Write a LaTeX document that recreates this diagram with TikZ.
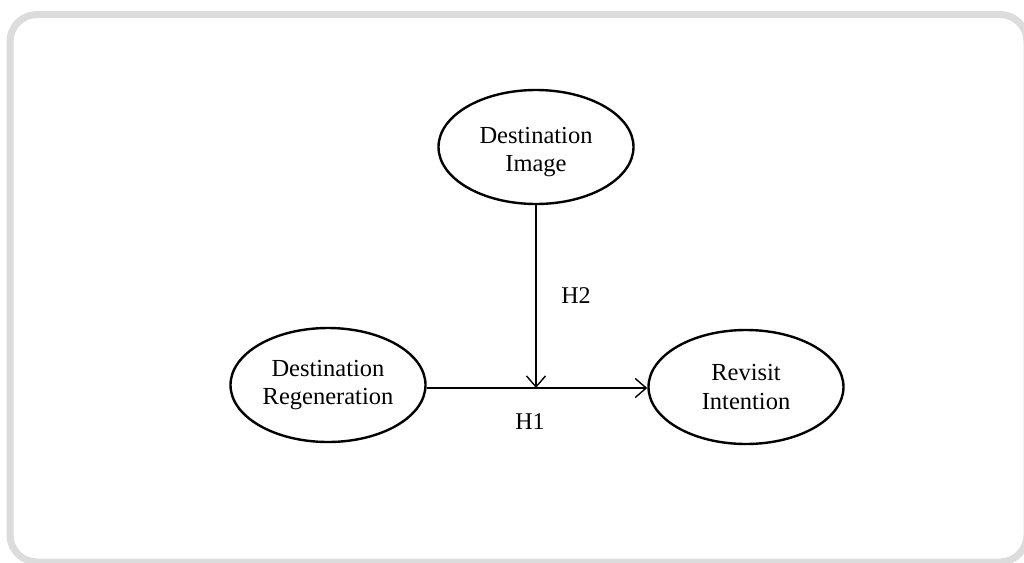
\documentclass[tikz,border=0pt]{standalone}
\usepackage{fontspec}
\setmainfont{Liberation Serif}
\usetikzlibrary{shapes.geometric,arrows.meta}
\definecolor{framegray}{RGB}{220,220,220}
\tikzset{
  construct/.style={ellipse, draw, line width=2.4pt, minimum width=195pt, minimum height=114pt, inner sep=0pt, align=center, font=\fontsize{24.5}{28.5}\selectfont},
  link/.style={line width=1.4pt, -{Straight Barb[length=11pt,width=19pt,line width=1.4pt]}},
  hyp/.style={font=\fontsize{24}{28}\selectfont, inner sep=0pt}
}
\begin{document}
\begin{tikzpicture}[x=1pt,y=-1pt]
\useasboundingbox (0,0) rectangle (1024,562);
\fill[white] (0,0) rectangle (1024,562);
\draw[framegray, line width=7pt, rounded corners=27pt] (10,14.5) rectangle (1027,562);
\node[construct, label={[font=\fontsize{24.5}{28.5}\selectfont, align=center, yshift=-5pt]center:Destination\\Image}] (di) at (536,147) {};
\node[construct] (dr) at (328,385) {Destination\\Regeneration};
\node[construct] (ri) at (746,387) {Revisit\\Intention};
\coordinate (m) at (di.south |- 0,388);
\draw[link] (dr.east |- 0,388) -- (ri.west |- 0,388);
\draw[link] (di.south) -- (m);
\node[hyp] (h2) at (576,296) {H2};
\node[hyp] (h1) at (530,422) {H1};
\end{tikzpicture}
\end{document}
